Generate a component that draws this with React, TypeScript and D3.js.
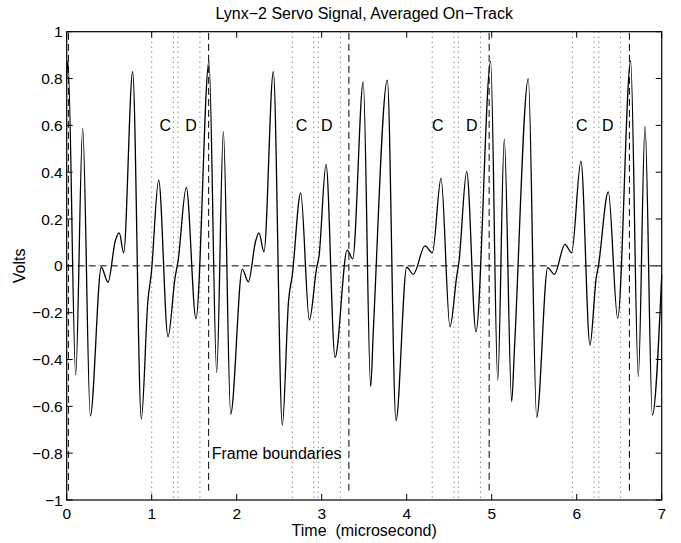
import React from "react";
import * as d3 from "d3";

const W = 681;
const H = 543;

const title = "Lynx\u22122 Servo Signal, Averaged On\u2212Track";
const xLabel = "Time  (microsecond)";
const yLabel = "Volts";

const xTicks = [0, 1, 2, 3, 4, 5, 6, 7];
const yTicks = [-1, -0.8, -0.6, -0.4, -0.2, 0, 0.2, 0.4, 0.6, 0.8, 1];

const frameBoundaries = [0.02, 1.67, 3.32, 4.97, 6.62];
const dottedMarkers = [
  1.0, 1.255, 1.31, 1.567,
  2.654, 2.908, 2.96, 3.22,
  4.3, 4.556, 4.607, 4.868,
  5.949, 6.204, 6.26, 6.517,
];
const cLabelTimes = [1.16, 2.764, 4.365, 6.059];
const dLabelTimes = [1.462, 3.059, 4.765, 6.365];
const labelVolt = 0.6;
const frameLabel = "Frame boundaries";
const frameLabelTime = 1.706;
const frameLabelVolt = -0.8;

// Averaged servo signal
const signalTime = [
  0.0, 0.015, 0.106, 0.188, 0.278, 0.407, 0.486, 0.572, 0.619, 0.67,
  0.776, 0.878, 0.955, 0.996, 1.082, 1.192, 1.275, 1.31, 1.407, 1.521,
  1.674, 1.765, 1.843, 1.929, 2.066, 2.137, 2.223, 2.262, 2.321, 2.431,
  2.537, 2.61, 2.654, 2.753, 2.855, 2.94, 2.968, 3.051, 3.157, 3.3,
  3.365, 3.489, 3.576, 3.607, 3.772, 3.874, 4.0, 4.078, 4.215, 4.302,
  4.404, 4.509, 4.59, 4.615, 4.706, 4.815, 4.988, 5.071, 5.148, 5.235,
  5.267, 5.431, 5.529, 5.659, 5.737, 5.862, 5.94, 6.05, 6.156, 6.23,
  6.254, 6.372, 6.482, 6.635, 6.725, 6.804, 6.89, 7.0,
];
const signalVolts = [
  0.8, 0.875, -0.466, 0.587, -0.641, -0.006, -0.07, 0.107, 0.141, 0.056,
  0.829, -0.655, -0.15, -0.03, 0.366, -0.303, -0.05, 0.02, 0.335, -0.226,
  0.873, -0.456, 0.573, -0.633, -0.014, -0.068, 0.106, 0.141, 0.06, 0.829,
  -0.68, -0.15, -0.04, 0.312, -0.231, -0.01, 0.04, 0.433, -0.391, 0.067,
  0.03, 0.786, -0.516, -0.28, 0.793, -0.661, -0.006, -0.036, 0.085, 0.056,
  0.374, -0.26, -0.04, 0.018, 0.402, -0.281, 0.873, -0.488, 0.541, -0.58,
  -0.36, 0.8, -0.647, -0.008, -0.036, 0.092, 0.056, 0.447, -0.338, -0.05,
  -0.004, 0.316, -0.224, 0.876, -0.473, 0.597, -0.637, -0.04,
];

const left = 66.7;
const right = 661.7;
const top = 31.7;
const bottom = 500;

const FONT = "'Liberation Sans', Arial, Helvetica, sans-serif";

function fmtY(v: number): string {
  const r = Math.round(v * 10) / 10;
  if (r === 0) return "0";
  const s = Math.abs(r).toString();
  return (r < 0 ? "\u2212" : "") + s;
}

export default function App() {
  const x = d3.scaleLinear().domain([0, 7]).range([left, right]);
  const y = d3.scaleLinear().domain([-1, 1]).range([bottom, top]);

  const pts: [number, number][] = signalTime.map((t, i) => [t, signalVolts[i]]);
  const line = d3
    .line<[number, number]>()
    .x((d) => x(d[0]))
    .y((d) => y(d[1]))
    .curve(d3.curveMonotoneX);
  const path = line(pts) || "";

  const tickLen = 6;

  return (
    <svg
      width={W}
      height={H}
      style={{ position: "absolute", left: 0, top: 0, background: "#fff" }}
      fontFamily={FONT}
    >
      <rect x={0} y={0} width={W} height={H} fill="#fff" />
      {dottedMarkers.map((t, i) => (
        <line
          key={"dm" + i}
          x1={x(t)}
          x2={x(t)}
          y1={y(1)}
          y2={y(-1)}
          stroke="#555"
          strokeWidth={1}
          strokeDasharray="1,4"
        />
      ))}
      {frameBoundaries.map((t, i) => (
        <line
          key={"fb" + i}
          x1={x(t)}
          x2={x(t)}
          y1={y(0.995)}
          y2={y(-0.96)}
          stroke="#000"
          strokeWidth={1}
          strokeDasharray="7,4"
        />
      ))}
      <line
        x1={x(0)}
        x2={x(7)}
        y1={y(0)}
        y2={y(0)}
        stroke="#000"
        strokeWidth={1}
        strokeDasharray="7,4"
      />
      <path d={path} fill="none" stroke="#000" strokeWidth={1.3} />

      {cLabelTimes.map((t, i) => (
        <text key={"c" + i} x={x(t)} y={y(labelVolt)} dy="0.36em" textAnchor="middle" fontSize={16}>
          C
        </text>
      ))}
      {dLabelTimes.map((t, i) => (
        <text key={"d" + i} x={x(t)} y={y(labelVolt)} dy="0.36em" textAnchor="middle" fontSize={16}>
          D
        </text>
      ))}
      <text x={x(frameLabelTime)} y={y(frameLabelVolt)} dy="0.36em" fontSize={16}>
        {frameLabel}
      </text>

      <rect x={left} y={top} width={right - left} height={bottom - top} fill="none" stroke="#000" strokeWidth={1.2} />
      {xTicks.map((t) => (
        <g key={"xt" + t}>
          <line x1={x(t)} x2={x(t)} y1={bottom} y2={bottom - tickLen} stroke="#000" />
          <line x1={x(t)} x2={x(t)} y1={top} y2={top + tickLen} stroke="#000" />
          <text x={x(t)} y={519} textAnchor="middle" fontSize={15.5}>
            {t}
          </text>
        </g>
      ))}
      {yTicks.map((v) => (
        <g key={"yt" + v}>
          <line x1={left} x2={left + tickLen} y1={y(v)} y2={y(v)} stroke="#000" />
          <line x1={right} x2={right - tickLen} y1={y(v)} y2={y(v)} stroke="#000" />
          <text x={62.7} y={y(v)} dy="0.36em" textAnchor="end" fontSize={15.5}>
            {fmtY(v)}
          </text>
        </g>
      ))}

      <text x={(left + right) / 2} y={18.5} textAnchor="middle" fontSize={16}>
        {title}
      </text>
      <text x={(left + right) / 2} y={536} textAnchor="middle" fontSize={16} xmlSpace="preserve" style={{ whiteSpace: "pre" }}>
        {xLabel}
      </text>
      <text
        transform={`translate(25, ${(top + bottom) / 2}) rotate(-90)`}
        textAnchor="middle"
        fontSize={16}
      >
        {yLabel}
      </text>
    </svg>
  );
}
